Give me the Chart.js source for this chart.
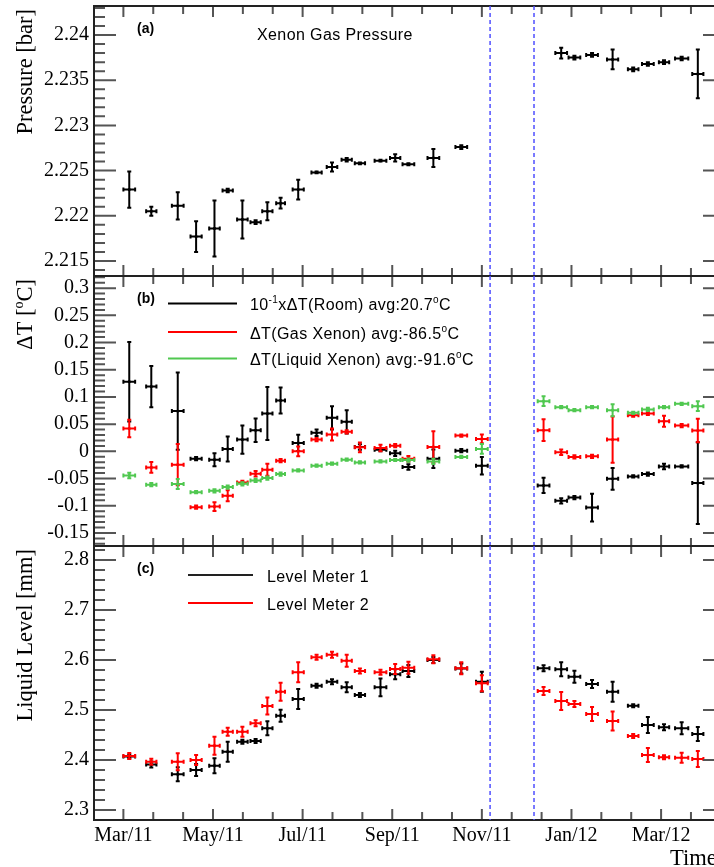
<!DOCTYPE html>
<html>
<head>
<meta charset="utf-8">
<script src="https://cdn.jsdelivr.net/npm/chart.js@4.4.1/dist/chart.umd.min.js"></script>
<style>
  html, body { margin: 0; padding: 0; background: #fff; overflow: hidden; width: 714px; height: 867px; }
  #wrap { position: relative; width: 740px; height: 867px; }
  #wrap canvas { position: absolute; left: 0; top: 0; }
</style>
</head>
<body>
<div id="wrap">
  <canvas id="panelA" width="740" height="867"></canvas>
  <canvas id="panelB" width="740" height="867"></canvas>
  <canvas id="panelC" width="740" height="867"></canvas>
</div>
<script>
// ---- time bins (days since 1 Mar 2011) ----
const binDay = [4, 19, 37, 49.5, 62, 71, 81, 90, 98, 107, 119, 131.5, 142, 152, 161,
  175, 185, 194, 211, 230, 244, 286, 298, 307, 319, 333, 347, 357, 368, 380, 391];
const binHalfWidth = [4, 3.5, 4, 3.8, 3.6, 3.5, 3.6, 3.5, 3.5, 3, 3.8, 3.5, 3.6, 3.5, 3.5,
  4, 3.5, 4, 4, 4, 4, 4, 4, 4, 4, 3.8, 3.6, 4, 3.5, 4.5, 3.8];

// time axis labels
const tickDays = [0, 61, 122, 183, 244, 305, 366];
const tickLabels = ['Mar/11', 'May/11', 'Jul/11', 'Sep/11', 'Nov/11', 'Jan/12', 'Mar/12'];

// interruption of data taking (dashed markers)
const pauseDays = [249.6, 279.5];

// ---- (a) xenon gas pressure [bar] ----
const pressure = [2.2229, 2.2205, 2.2211, 2.2177, 2.2186, 2.2228, 2.2196, 2.2193, 2.2205, 2.2214,
  2.2229, 2.2248, 2.2254, 2.2262, 2.2258, 2.2261, 2.2264, 2.2257, 2.2264, 2.2276, null, null,
  2.2380, 2.2375, 2.2378, 2.2373, 2.2362, 2.2368, 2.2370, 2.2374, 2.2357];
const pressureErr = [0.0020, 0.0005, 0.0015, 0.0017, 0.0031, 0.0002, 0.0021, 0.0002, 0.0010, 0.0006,
  0.0011, 0.0001, 0.0005, 0.0002, 0.0001, 0.0001, 0.0004, 0.0001, 0.0010, 0.0002, null, null,
  0.0006, 0.0002, 0.0002, 0.0011, 0.0002, 0.0002, 0.0002, 0.0002, 0.0027];
const pressureTicks = [2.215, 2.22, 2.225, 2.23, 2.235, 2.24];

// ---- (b) temperature deviations [°C] ----
const dTRoom = [0.128, 0.119, 0.074, -0.0135, -0.0153, 0.0044, 0.0216, 0.0388, 0.0696, 0.0935,
  0.0155, 0.034, 0.0616, 0.0542, 0.008, 0.0031, -0.0037, -0.0288, -0.0135, 0.0013, -0.0264,
  -0.0627, -0.091, -0.0849, -0.1033, -0.0504, -0.0461, -0.0417, -0.0277, -0.0277, -0.0584];
const dTRoomErr = [0.073, 0.038, 0.071, 0.003, 0.012, 0.023, 0.026, 0.0215, 0.0486, 0.024,
  0.015, 0.006, 0.0215, 0.0215, 0.005, 0.003, 0.005, 0.005, 0.017, 0.003, 0.016,
  0.014, 0.005, 0.003, 0.0255, 0.02, 0.002, 0.003, 0.005, 0.002, 0.075];
const dTGas = [0.042, -0.0295, -0.0245, -0.1026, -0.1015, -0.0817, -0.0572, -0.0411, -0.0338, -0.0172,
  0.0, 0.0216, 0.0308, 0.0358, 0.0074, 0.0063, 0.0105, -0.0135, 0.0081, 0.029, 0.0229,
  0.0388, -0.0018, -0.0103, -0.0092, 0.0216, 0.0664, 0.0696, 0.0554, 0.0474, 0.0382];
const dTGasErr = [0.016, 0.01, 0.038, 0.003, 0.008, 0.01, 0.003, 0.005, 0.011, 0.003,
  0.009, 0.003, 0.011, 0.003, 0.009, 0.006, 0.003, 0.005, 0.029, 0.002, 0.008,
  0.02, 0.005, 0.003, 0.003, 0.0425, 0.003, 0.003, 0.01, 0.003, 0.0215];
const dTLiquid = [-0.0443, -0.0614, -0.06, -0.075, -0.0725, -0.0657, -0.0596, -0.0535, -0.0491, -0.0417,
  -0.035, -0.0264, -0.0227, -0.0153, -0.0203, -0.0185, -0.0159, -0.016, -0.0185, -0.0103, 0.0044,
  0.0923, 0.0812, 0.0757, 0.0812, 0.0757, 0.0708, 0.077, 0.0812, 0.0874, 0.083];
const dTLiquidErr = [0.005, 0.003, 0.009, 0.002, 0.003, 0.003, 0.003, 0.003, 0.003, 0.003,
  0.002, 0.002, 0.002, 0.002, 0.002, 0.002, 0.002, 0.003, 0.005, 0.002, 0.009,
  0.009, 0.002, 0.002, 0.002, 0.011, 0.002, 0.003, 0.002, 0.002, 0.009];
const dTTicks = [-0.15, -0.1, -0.05, 0, 0.05, 0.1, 0.15, 0.2, 0.25, 0.3];

// ---- (c) liquid level [mm] ----
const level1 = [2.407, 2.391, 2.3713, 2.38, 2.3887, 2.4167, 2.4367, 2.438, 2.4633, 2.4887,
  2.522, 2.5487, 2.5567, 2.5453, 2.53, 2.5453, 2.5713, 2.578, 2.600, 2.583, 2.5567,
  2.5833, 2.5813, 2.5667, 2.552, 2.5367, 2.5087, 2.47, 2.4653, 2.4633, 2.452];
const level1Err = [0.004, 0.006, 0.014, 0.012, 0.015, 0.02, 0.004, 0.004, 0.014, 0.012,
  0.02, 0.004, 0.005, 0.01, 0.004, 0.0177, 0.01, 0.012, 0.006, 0.01, 0.02,
  0.006, 0.014, 0.012, 0.008, 0.02, 0.003, 0.016, 0.006, 0.012, 0.014];
const level2 = [2.408, 2.3966, 2.3967, 2.40, 2.4287, 2.4567, 2.4567, 2.4733, 2.508, 2.5367,
  2.5753, 2.6053, 2.6107, 2.5987, 2.578, 2.5753, 2.582, 2.5847, 2.6013, 2.5833, 2.5533,
  2.538, 2.518, 2.512, 2.492, 2.478, 2.448, 2.41, 2.4053, 2.4047, 2.402];
const level2Err = [0.006, 0.006, 0.017, 0.01, 0.018, 0.008, 0.01, 0.006, 0.017, 0.018,
  0.02, 0.005, 0.006, 0.012, 0.005, 0.005, 0.01, 0.012, 0.008, 0.012, 0.016,
  0.008, 0.018, 0.006, 0.014, 0.019, 0.004, 0.014, 0.004, 0.01, 0.016];
const levelTicks = [2.3, 2.4, 2.5, 2.6, 2.7, 2.8];

const SERIF = '"Liberation Serif", "Times New Roman", serif';
const SANS = '"Liberation Sans", Arial, sans-serif';
const BLACK = '#000000', RED = '#ff0000', GREEN = '#50c850', BLUE = '#4f4fff';

// text with optional superscript pieces
function richText(ctx, segs, x, y, size, family, weight, align, spacing) {
  const big = `${weight} ${size}px ${family}`;
  const small = `${weight} ${Math.round(size * 0.62)}px ${family}`;
  ctx.textAlign = 'left';
  ctx.letterSpacing = spacing || '0px';
  let w = 0;
  segs.forEach(s => { ctx.font = s.sup ? small : big; w += ctx.measureText(s.t).width; });
  let cx = align === 'right' ? x - w : x;
  segs.forEach(s => {
    ctx.font = s.sup ? small : big;
    ctx.fillText(s.t, cx, s.sup ? y - size * 0.42 : y);
    cx += ctx.measureText(s.t).width;
  });
  ctx.letterSpacing = '0px';
}

// horizontal and vertical error bars with small end caps
const errorBars = {
  id: 'errorBars',
  afterDatasetDraw(chart, args) {
    const ds = chart.data.datasets[args.index];
    const { ctx, scales: { x, y } } = chart;
    ctx.save();
    ctx.strokeStyle = ds.borderColor;
    ctx.lineWidth = 2;
    ctx.lineCap = 'butt';
    ctx.beginPath();
    ds.data.forEach(p => {
      const px = x.getPixelForValue(p.x), py = y.getPixelForValue(p.y);
      const x0 = x.getPixelForValue(p.x - p.ex), x1 = x.getPixelForValue(p.x + p.ex);
      const y0 = y.getPixelForValue(p.y - p.ey), y1 = y.getPixelForValue(p.y + p.ey);
      ctx.moveTo(x0, py); ctx.lineTo(x1, py);
      ctx.moveTo(px, y0); ctx.lineTo(px, y1);
      ctx.moveTo(x0, py - 2); ctx.lineTo(x0, py + 2);
      ctx.moveTo(x1, py - 2); ctx.lineTo(x1, py + 2);
      ctx.moveTo(px - 2, y0); ctx.lineTo(px + 2, y0);
      ctx.moveTo(px - 2, y1); ctx.lineTo(px + 2, y1);
    });
    ctx.stroke();
    ctx.restore();
  }
};

// frame, inward ticks, pause markers, titles and legends
const panelDecor = {
  id: 'panelDecor',
  afterDraw(chart, args, o) {
    const { ctx, chartArea: a, scales: { x, y } } = chart;
    ctx.save();

    // inward tick marks
    ctx.strokeStyle = '#555';
    ctx.lineWidth = 2;
    ctx.beginPath();
    const step = (tickDays[1] - tickDays[0]) / 3;
    for (let k = -3; k < 40; k++) {
      const d = tickDays[0] + k * step;
      if (d < x.min || d > x.max) continue;
      const px = x.getPixelForValue(d);
      const len = k % 3 === 0 ? 11 : 8;
      ctx.moveTo(px, a.top); ctx.lineTo(px, a.top + len);
      ctx.moveTo(px, a.bottom); ctx.lineTo(px, a.bottom - len);
    }
    const n0 = Math.ceil(y.min / o.minor - 1e-6), n1 = Math.floor(y.max / o.minor + 1e-6);
    for (let n = n0; n <= n1; n++) {
      const py = y.getPixelForValue(n * o.minor);
      const len = n % 5 === 0 ? 22 : 11;
      ctx.moveTo(a.left, py); ctx.lineTo(a.left + len, py);
      ctx.moveTo(a.right, py); ctx.lineTo(a.right - len, py);
    }
    ctx.stroke();

    // frame
    ctx.strokeStyle = '#222';
    ctx.lineWidth = 2;
    ctx.strokeRect(a.left, a.top, a.right - a.left, a.bottom - a.top);

    // pause markers
    ctx.strokeStyle = BLUE;
    ctx.lineWidth = 1.5;
    ctx.setLineDash([4, 3]);
    ctx.beginPath();
    pauseDays.forEach(d => {
      const px = x.getPixelForValue(d);
      ctx.moveTo(px, a.top); ctx.lineTo(px, a.bottom);
    });
    ctx.stroke();
    ctx.setLineDash([]);

    ctx.fillStyle = '#000';
    ctx.textBaseline = 'alphabetic';

    // panel tag
    ctx.font = `bold 14px ${SANS}`;
    ctx.textAlign = 'left';
    ctx.fillText(o.tag, 137, a.top + 26.5);

    // axis title, rotated and aligned to the top of the panel
    ctx.save();
    ctx.translate(32, a.top + 3);
    ctx.rotate(-Math.PI / 2);
    richText(ctx, o.title, 0, 0, 22.5, SERIF, 'normal', 'right');
    ctx.restore();

    // free text
    (o.notes || []).forEach(t => richText(ctx, t.segs, t.x, a.top + t.dy, 16, SANS, 'normal', 'left', '0.4px'));

    // legend rows
    (o.legend || []).forEach(r => {
      const ly = a.top + r.dy;
      ctx.strokeStyle = r.color;
      ctx.lineWidth = 2;
      ctx.beginPath();
      ctx.moveTo(r.x0, ly); ctx.lineTo(r.x1, ly);
      ctx.stroke();
      ctx.fillStyle = '#000';
      richText(ctx, r.segs, r.tx, ly + 6.5, 16, SANS, 'normal', 'left', '0.4px');
    });

    // time axis title
    if (o.xTitle) {
      ctx.font = `22.5px ${SERIF}`;
      ctx.textAlign = 'left';
      ctx.fillText(o.xTitle, 670, 865);
    }
    ctx.restore();
  }
};

function series(label, values, errors, color, order) {
  const data = [];
  values.forEach((v, i) => {
    if (v !== null) data.push({ x: binDay[i], y: v, ex: binHalfWidth[i], ey: errors[i] });
  });
  return {
    label, data, order,
    borderColor: color, backgroundColor: color,
    pointRadius: 1.6, pointHoverRadius: 1.6, pointBorderWidth: 0, pointStyle: 'circle'
  };
}

function panel(id, p) {
  return new Chart(document.getElementById(id), {
    type: 'scatter',
    data: { datasets: p.datasets },
    options: {
      responsive: false,
      animation: false,
      devicePixelRatio: 1,
      events: [],
      layout: { padding: { top: p.top, bottom: p.padBottom, left: 0, right: 15 } },
      plugins: {
        legend: { display: false },
        tooltip: { enabled: false },
        panelDecor: p.decor
      },
      scales: {
        x: {
          type: 'linear', min: -20, max: 409.5,
          display: p.showX,
          afterBuildTicks: s => { s.ticks = tickDays.map(v => ({ value: v })); },
          afterFit: s => {
            s.height = p.showX ? 47 : 0;
            s.paddingLeft = 0; s.paddingRight = 0;
          },
          ticks: {
            autoSkip: false, maxRotation: 0, padding: 4,
            font: { family: SERIF, size: 20 }, color: '#000',
            callback: (v, i) => tickLabels[i]
          },
          grid: { display: false, drawTicks: false },
          border: { display: false }
        },
        y: {
          type: 'linear', min: p.yMin, max: p.yMax,
          afterFit: s => {
            s.width = 94;
            s.paddingTop = 0; s.paddingBottom = 0;
          },
          afterBuildTicks: s => { s.ticks = p.yTicks.map(v => ({ value: v })); },
          ticks: {
            autoSkip: false, padding: 5,
            font: { family: SERIF, size: 20 }, color: '#000',
            callback: v => String(v)
          },
          grid: { display: false, drawTicks: false },
          border: { display: false }
        }
      }
    },
    plugins: [errorBars, panelDecor]
  });
}

panel('panelA', {
  top: 6, padBottom: 867 - 276, showX: false,
  yMin: 2.21334, yMax: 2.24321, yTicks: pressureTicks,
  datasets: [series('Pressure', pressure, pressureErr, BLACK, 1)],
  decor: {
    tag: '(a)', minor: 0.001,
    title: [{ t: 'Pressure [bar]' }],
    notes: [{ x: 257, dy: 34, segs: [{ t: 'Xenon Gas Pressure' }] }]
  }
});

panel('panelB', {
  top: 276, padBottom: 867 - 546, showX: false,
  yMin: -0.174, yMax: 0.3223, yTicks: dTTicks,
  datasets: [
    series('Room', dTRoom, dTRoomErr, BLACK, 3),
    series('Gas Xenon', dTGas, dTGasErr, RED, 2),
    series('Liquid Xenon', dTLiquid, dTLiquidErr, GREEN, 1)
  ],
  decor: {
    tag: '(b)', minor: 0.01,
    title: [{ t: '\u0394T [' }, { t: 'o', sup: true }, { t: 'C]' }],
    legend: [
      { color: BLACK, x0: 168, x1: 237, tx: 250, dy: 27.5,
        segs: [{ t: '10' }, { t: '-1', sup: true }, { t: 'x\u0394T(Room) avg:20.7' }, { t: 'o', sup: true }, { t: 'C' }] },
      { color: RED, x0: 168, x1: 237, tx: 250, dy: 56,
        segs: [{ t: '\u0394T(Gas Xenon) avg:-86.5' }, { t: 'o', sup: true }, { t: 'C' }] },
      { color: GREEN, x0: 168, x1: 237, tx: 250, dy: 82.5,
        segs: [{ t: '\u0394T(Liquid Xenon) avg:-91.6' }, { t: 'o', sup: true }, { t: 'C' }] }
    ]
  }
});

panel('panelC', {
  top: 546, padBottom: 0, showX: true,
  yMin: 2.28, yMax: 2.828, yTicks: levelTicks,
  datasets: [
    series('Level Meter 1', level1, level1Err, BLACK, 2),
    series('Level Meter 2', level2, level2Err, RED, 1)
  ],
  decor: {
    tag: '(c)', minor: 0.02,
    title: [{ t: 'Liquid Level [mm]' }],
    legend: [
      { color: '#222', x0: 188, x1: 253, tx: 267, dy: 29, segs: [{ t: 'Level Meter 1' }] },
      { color: RED, x0: 188, x1: 253, tx: 267, dy: 57, segs: [{ t: 'Level Meter 2' }] }
    ],
    xTitle: 'Time'
  }
});
</script>
</body>
</html>
